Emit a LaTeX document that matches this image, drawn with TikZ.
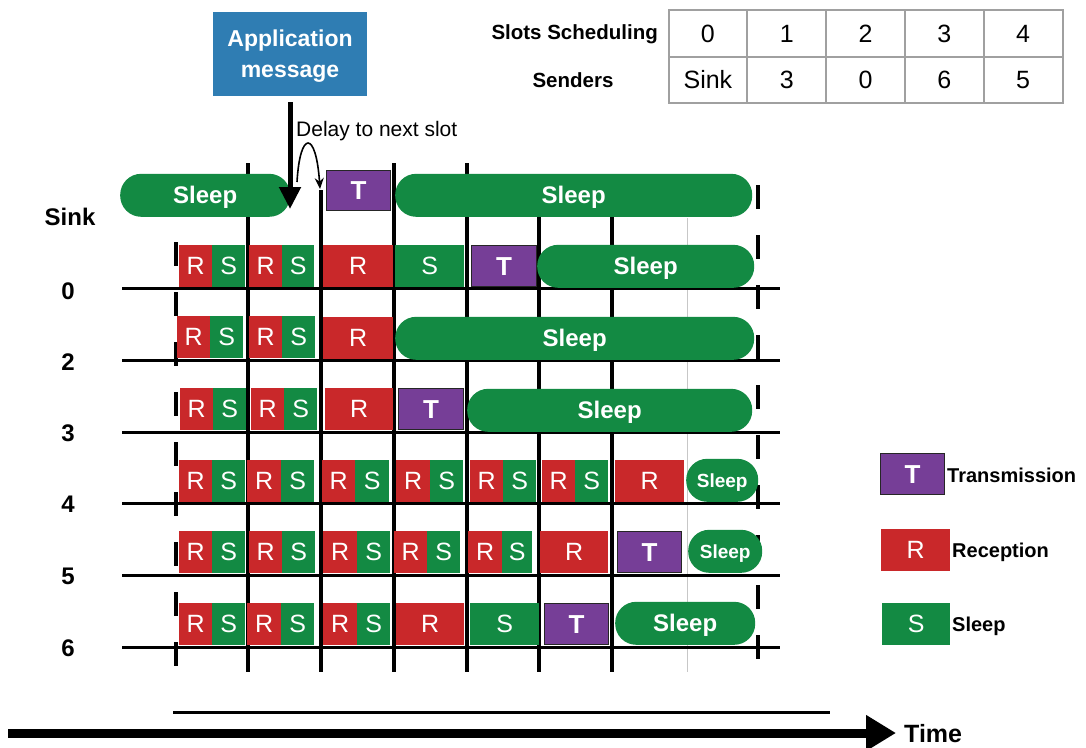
\documentclass[tikz,border=0pt]{standalone}
\usepackage{fontspec}
\setmainfont{Liberation Sans}
\usetikzlibrary{arrows.meta}
\definecolor{cred}{HTML}{C9282A}
\definecolor{cgreen}{HTML}{138A43}
\definecolor{cpurple}{HTML}{763E97}
\definecolor{cblue}{HTML}{2F7DB3}
\definecolor{cgrid}{HTML}{A0A0A0}
\tikzset{
  cell/.style={inner sep=0pt, anchor=south west, minimum height=42pt, text=white,
    font=\fontsize{25}{25}\selectfont, text height=18pt, text depth=0pt},
  rbox/.style={cell, fill=cred},
  sbox/.style={cell, fill=cgreen},
  tbox/.style={cell, fill=cpurple, draw=black!85, line width=1.3pt, minimum height=41pt,
    font=\bfseries\fontsize{26}{26}\selectfont, text height=18.7pt},
  pill/.style={cell, fill=cgreen, rounded corners=21pt, minimum height=43pt,
    font=\bfseries\fontsize{24}{24}\selectfont, text height=17.3pt},
  spill/.style={pill, font=\bfseries\fontsize{19}{19}\selectfont, text height=13.7pt},
  rowlab/.style={font=\bfseries\fontsize{24}{24}\selectfont},
  tcell/.style={draw=cgrid, line width=2pt, minimum width=78.8pt, minimum height=46.5pt,
    inner sep=0pt, font=\fontsize{25}{25}\selectfont, text height=18pt, text depth=0pt},
  tlab/.style={font=\bfseries\fontsize{20.5}{20.5}\selectfont},
  leglab/.style={anchor=west, inner sep=0pt, font=\bfseries\fontsize{20}{20}\selectfont},
  vline/.style={line width=4pt},
  hline/.style={line width=3pt},
  dline/.style={line width=4pt, dash pattern=on 24pt off 26pt},
}
\begin{document}
\begin{tikzpicture}[x=1pt,y=-1pt]
\useasboundingbox (0,0) rectangle (1086,747);
% grid lines
\foreach \x in {248,394,467} \draw[vline] (\x,163) -- (\x,672);
\foreach \x in {539,612} \draw[vline] (\x,214) -- (\x,672);
\draw[vline] (321,190) -- (321,672);
\draw[line width=0.8pt, black!22] (687,218) -- (687,672);
\draw[dline] (176,242) -- (176,672);
\draw[dline] (758,185) -- (758,672);
\foreach \y in {288,360,432,503,575,647} \draw[hline] (122,\y) -- (780,\y);

% row labels
\node[rowlab] (lsink) at (70,217) {Sink};
\node[rowlab] (l0) at (68,291) {0};
\node[rowlab] (l2) at (68,362) {2};
\node[rowlab] (l3) at (68,433) {3};
\node[rowlab] (l4) at (68,504) {4};
\node[rowlab] (l5) at (68,576) {5};
\node[rowlab] (l6) at (68,648) {6};

% sink row
\node[pill, minimum width=170pt] (sk1) at (120,217) {Sleep};
\node[tbox, minimum width=64pt, minimum height=40pt] (skt) at (326,211) {T};
\node[pill, minimum width=357pt] (sk2) at (395,217) {Sleep};

% row 0
\node[rbox, minimum width=33pt] (a1) at (179,287) {R};
\node[sbox, minimum width=33pt] (a2) at (212,287) {S};
\node[rbox, minimum width=33pt] (a3) at (249,287) {R};
\node[sbox, minimum width=32pt] (a4) at (282,287) {S};
\node[rbox, minimum width=70pt] (a5) at (323,287) {R};
\node[sbox, minimum width=69pt] (a6) at (395,287) {S};
\node[tbox, minimum width=65pt] (a7) at (471,287) {T};
\node[pill, minimum width=217pt] (a8) at (537,288) {Sleep};

% row 2
\node[rbox, minimum width=33pt] (b1) at (177,358) {R};
\node[sbox, minimum width=33pt] (b2) at (210,358) {S};
\node[rbox, minimum width=33pt] (b3) at (249,358) {R};
\node[sbox, minimum width=33pt] (b4) at (282,358) {S};
\node[rbox, minimum width=70pt] (b5) at (323,359) {R};
\node[pill, minimum width=359pt] (b6) at (395,360) {Sleep};

% row 3
\node[rbox, minimum width=33pt] (c1) at (180,430) {R};
\node[sbox, minimum width=33pt] (c2) at (213,430) {S};
\node[rbox, minimum width=33pt] (c3) at (251,430) {R};
\node[sbox, minimum width=33pt] (c4) at (284,430) {S};
\node[rbox, minimum width=68pt] (c5) at (325,430) {R};
\node[tbox, minimum width=65pt] (c6) at (398,430) {T};
\node[pill, minimum width=285pt] (c7) at (467,432) {Sleep};

% row 4
\node[rbox, minimum width=33pt] (d1) at (179,502) {R};
\node[sbox, minimum width=33pt] (d2) at (212,502) {S};
\node[rbox, minimum width=34pt] (d3) at (247,502) {R};
\node[sbox, minimum width=33pt] (d4) at (281,502) {S};
\node[rbox, minimum width=33pt] (d5) at (322,502) {R};
\node[sbox, minimum width=34pt] (d6) at (355,502) {S};
\node[rbox, minimum width=34pt] (d7) at (396,502) {R};
\node[sbox, minimum width=33pt] (d8) at (430,502) {S};
\node[rbox, minimum width=33pt] (d9) at (470,502) {R};
\node[sbox, minimum width=33pt] (d10) at (503,502) {S};
\node[rbox, minimum width=33pt] (d11) at (542,502) {R};
\node[sbox, minimum width=33pt] (d12) at (575,502) {S};
\node[rbox, minimum width=69pt] (d13) at (615,502) {R};
\node[spill, minimum width=72pt] (d14) at (686,502) {Sleep};

% row 5
\node[rbox, minimum width=33pt] (e1) at (179,573) {R};
\node[sbox, minimum width=33pt] (e2) at (212,573) {S};
\node[rbox, minimum width=33pt] (e3) at (249,573) {R};
\node[sbox, minimum width=33pt] (e4) at (282,573) {S};
\node[rbox, minimum width=34pt] (e5) at (323,573) {R};
\node[sbox, minimum width=33pt] (e6) at (357,573) {S};
\node[rbox, minimum width=33pt] (e7) at (394,573) {R};
\node[sbox, minimum width=33pt] (e8) at (427,573) {S};
\node[rbox, minimum width=34pt] (e9) at (468,573) {R};
\node[sbox, minimum width=30pt] (e10) at (502,573) {S};
\node[rbox, minimum width=68pt] (e11) at (540,573) {R};
\node[tbox, minimum width=64pt] (e12) at (617,573) {T};
\node[spill, minimum width=74pt] (e13) at (688,573) {Sleep};

% row 6
\node[rbox, minimum width=33pt] (f1) at (179,645) {R};
\node[sbox, minimum width=33pt] (f2) at (212,645) {S};
\node[rbox, minimum width=34pt] (f3) at (247,645) {R};
\node[sbox, minimum width=33pt] (f4) at (281,645) {S};
\node[rbox, minimum width=34pt] (f5) at (323,645) {R};
\node[sbox, minimum width=33pt] (f6) at (357,645) {S};
\node[rbox, minimum width=68pt] (f7) at (396,645) {R};
\node[sbox, minimum width=69pt] (f8) at (470,645) {S};
\node[tbox, minimum width=64pt] (f9) at (544,645) {T};
\node[pill, minimum width=140pt] (f10) at (615,645) {Sleep};

% application message
\node[fill=cblue, minimum width=154pt, minimum height=84pt, inner sep=0pt, text=white,
  align=center, text depth=-2pt, font=\bfseries\fontsize{23}{31}\selectfont] (app) at (290,54) {Application\\message};
\coordinate (arrtip) at (290,209);
\draw[line width=5pt, -{Triangle[width=21pt,length=22pt]}] ([yshift=-6pt]app.south) -- (arrtip);
\coordinate (cs) at (297,182);
\coordinate (ce) at (320,189);
\draw[line width=1.6pt, -{Stealth[length=11pt,width=9pt]}] (cs) .. controls (300,130) and (316,130) .. (ce);
\node[anchor=west, inner sep=0pt, font=\fontsize{21}{21}\selectfont] (delay) at (296,131) {Delay to next slot};

% table
\foreach \c/\t [count=\i] in {0/0,1/1,2/2,3/3,4/4} {
  \node[tcell] (ts\i) at (668.5+78.8*\i-39.4,33.25) {\t};
}
\foreach \c/\t [count=\i] in {0/Sink,1/3,2/0,3/6,4/5} {
  \node[tcell] (tr\i) at (668.5+78.8*\i-39.4,79.75) {\t};
}
\node[tlab, anchor=east, inner sep=0pt] (slots) at (658,34) {Slots Scheduling};
\node[tlab] (senders) at (573,80) {Senders};

% legend
\node[tbox, minimum width=64pt] (lgt) at (880,495) {T};
\node[leglab] (lgtl) at (947,475) {Transmission};
\node[rbox, minimum width=69pt] (lgr) at (881,571) {R};
\node[leglab] (lgrl) at (952,552) {Reception};
\node[sbox, minimum width=68pt] (lgs) at (882,645) {S};
\node[leglab] (lgsl) at (952,626) {Sleep};

% time axis
\coordinate (ts) at (173,712);
\coordinate (te) at (830,712);
\draw[line width=3pt] (ts) -- (te);
\coordinate (as) at (8,733);
\coordinate (ae) at (896,733);
\draw[line width=9pt, -{Triangle[width=34pt,length=30pt]}] (as) -- (ae);
\node[anchor=west, inner sep=0pt, font=\bfseries\fontsize{25}{25}\selectfont] (time) at (904,734) {Time};
\end{tikzpicture}
\end{document}
